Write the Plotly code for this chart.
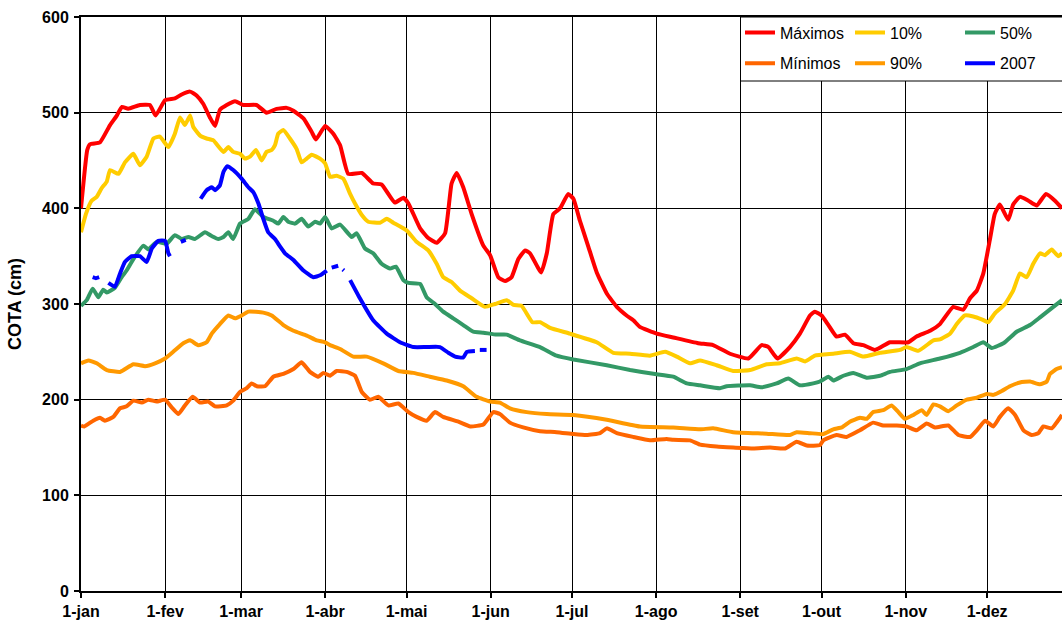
import plotly.graph_objects as go

# ---------------- data (day of year, cota in cm) ----------------
month_days = [0, 31, 59, 90, 120, 151, 181, 212, 243, 273, 304, 334]
month_labels = ["1-jan", "1-fev", "1-mar", "1-abr", "1-mai", "1-jun",
                "1-jul", "1-ago", "1-set", "1-out", "1-nov", "1-dez"]

max_days = [0, 2.3, 3.3, 7, 10.7, 13.2, 15.1, 17.4, 21.7, 25.4, 27.5, 31, 34.6, 37.1, 40.2,
            42.6, 45.1, 47.5, 49.4, 51.2, 53.7, 56.8, 59.8, 64.7, 68.4, 72.1, 75.8, 78.3,
            82, 85, 86.6, 90, 93, 95.5, 98.5, 103.5, 107.7, 110.8, 115.7, 118.8, 120.7,
            125, 128, 131.1, 134.2, 136.6, 138.5, 140.9, 144, 148.3, 150.8, 153.8, 156.3,
            158.7, 161.2, 163.7, 165.5, 169.6, 171.7, 174.1, 176.6, 179.6, 181.5, 183.9,
            187, 190.1, 193.8, 197.5, 201.1, 203.6, 206, 212.2, 218.3, 227.5, 233, 239.2,
            246, 250.9, 253.4, 256.7, 261.3, 265, 268.7, 270.5, 273, 275.5, 278.5, 281.6,
            284.7, 288.4, 292.7, 298.2, 305, 308, 313, 316.6, 321.5, 325.2, 327.7, 330.2,
            332.6, 335, 336.8, 338.7, 341.8, 343.6, 346.1, 349.2, 352.3, 355.7, 359, 361.6]
max_vals = [400, 461, 467, 469, 487, 497, 506, 504, 508, 508, 497, 513, 515, 519, 522,
            518, 509, 495, 486, 503, 508, 512, 508, 508, 500, 504, 505, 502,
            494, 480, 472, 486, 478, 466, 436, 437, 426, 425, 406, 411, 405,
            379, 369, 364, 374, 426, 437, 422, 394, 361, 351, 328, 324,
            328, 347, 356, 353, 333, 353, 394, 400, 415, 410, 387,
            360, 333, 311, 297, 288, 283, 276, 269, 265, 259, 257, 248,
            243, 257, 255, 243, 255, 269, 288, 292, 288, 278, 266, 268,
            259, 257, 252, 260, 260, 266, 272, 279, 297, 294, 306, 314,
            332, 367, 394, 404, 388, 404, 412, 408, 403, 415, 408, 400]

min_days = [0, 1.2, 4.5, 7, 8.8, 11.9, 14.4, 16.8, 19.3, 22.4, 24.8, 27.9, 31, 33.4, 35.9,
            38.3, 41.2, 43.9, 46.9, 49.4, 53.7, 56.1, 58.6, 61.1, 62.9, 64.8, 67.8, 70.9,
            74.6, 78.3, 81.3, 84.4, 87.5, 89.3, 91.8, 94.2, 97.9, 101, 103.5, 106.5, 109.6,
            113.3, 117, 120.7, 123.7, 127.4, 130.5, 133.5, 139.1, 143.5, 148.3, 152, 154.4,
            158.1, 163, 169.2, 175.3, 181.5, 186.4, 191.3, 193.8, 197.5, 203.6, 209.7,
            215.9, 218.3, 224.5, 228.2, 234.3, 240.4, 247.8, 254, 259.5, 263.8, 267.5,
            272.4, 273.6, 278.5, 282.2, 287.1, 292, 295.7, 300.7, 304.3, 308, 311.7, 314.8,
            319.7, 323.4, 327.7, 330.2, 333.3, 336.3, 338.7, 341.8, 344.3, 347.4, 350.4,
            352.9, 354.7, 357.8, 361.6]
min_vals = [173, 172, 178, 181, 178, 182, 191, 193, 199, 197, 200, 198, 200, 192, 185,
            194, 203, 197, 198, 193, 194, 199, 208, 212, 217, 214, 214, 224,
            227, 232, 239, 229, 224, 228, 225, 230, 229, 225, 208, 200, 203,
            194, 196, 187, 182, 178, 187, 182, 177, 172, 174, 187, 185,
            176, 171, 167, 166, 164, 163, 165, 170, 165, 161, 157.5,
            159, 158, 157.5, 153, 151, 150, 149, 150, 149, 156, 152,
            152.5, 157.5, 163, 161, 168, 176, 173, 173, 172, 168, 175, 171,
            173, 163, 161, 168, 178, 172, 182, 191, 184, 168, 163,
            165, 172, 170, 184]

p10_days = [0, 1.8, 3.9, 5.8, 7.6, 9.5, 10.7, 13.8, 16.2, 19.3, 21.7, 24.2, 26.7, 29.1,
            32.2, 34.6, 36.5, 38.3, 40.2, 41.4, 43.9, 46.3, 48.8, 52.5, 54.3, 56.1, 58.6,
            60.4, 62.3, 64.5, 66.6, 68.4, 70.3, 71.5, 72.7, 74.6, 77, 79.5, 81.3, 83.2, 85,
            88.1, 90, 91.8, 94.2, 96.7, 99.2, 101, 103.5, 105.9, 110.2, 112.7, 115.1, 120,
            123.7, 128, 131.1, 133.5, 136.6, 139.7, 144, 148.9, 152.6, 156.9, 159.4, 162.4,
            166.4, 169.2, 172.9, 180.2, 190.1, 196.2, 202.4, 209.7, 215.3, 219.6, 224.5,
            228.2, 234.3, 240.4, 246.6, 252.7, 257.6, 263.8, 266.9, 270.5, 277.3, 283.4,
            288.4, 294.5, 301.9, 304.3, 308.6, 314.2, 316.6, 320.3, 322.8, 325.8, 328.9,
            332, 334.4, 336.8, 340.6, 343.6, 346.1, 348.6, 351, 353.5, 355.3, 357.8, 360.2,
            361.6]
p10_vals = [375, 394, 408, 412, 421, 428, 440, 436, 448, 457, 445, 454, 473, 475,
            464, 478, 495, 487, 497, 485, 476, 473, 471, 459, 464, 459, 457,
            452, 454, 461, 450, 459, 461, 466, 478, 482, 473, 462, 448, 452, 456,
            452, 447, 433, 434, 431, 415, 405, 393, 386, 385, 389, 385, 377,
            365, 356, 342, 328, 323, 314, 306, 297, 300, 304, 299, 298,
            281, 281, 275, 269, 260, 249, 248, 246, 250, 245, 238,
            241, 236, 230, 231, 237, 238, 243, 240, 246, 248, 250,
            245, 249, 252, 255, 251, 262, 263, 269, 279, 288, 287,
            284, 281, 290, 300, 314, 332, 328, 342, 353, 351, 357, 350,
            353]

p50_days = [0, 2.1, 4.3, 6.4, 8.2, 9.5, 12.5, 15, 16.8, 19.3, 23, 24.8, 27.9, 31.6, 34.6,
            37.1, 39.6, 42, 45.7, 48.2, 50.6, 52.5, 54.3, 56.1, 58.6, 61.7, 64.1, 67.2,
            70.9, 72.7, 74.6, 76.4, 78.9, 81.3, 83.8, 86.3, 88.1, 90, 92.4, 95.5, 99.8,
            101.6, 104.7, 107.7, 110.8, 113.9, 116.1, 118.8, 120.7, 125, 127.4, 130.5,
            133.5, 137.2, 140.9, 144.6, 148.3, 153.2, 156.9, 161.8, 169.2, 175.3, 181.5,
            193.8, 202.4, 211, 218.3, 223.3, 228.2, 235.5, 238, 246.6, 250.9, 256.4, 260.7,
            265, 269.9, 272.4, 275.5, 277.3, 281, 284.7, 289.6, 294.5, 298.2, 304.3, 309.2,
            316.6, 324, 328.9, 332.6, 335.7, 340, 344.9, 349.8, 353.5, 358.4, 361.6]
p50_vals = [298, 304, 316, 307, 315, 312, 317, 328, 335, 347, 361, 357, 365, 363, 372,
            368, 370, 368, 375, 371, 368, 370, 375, 368, 384, 389, 399, 391,
            387, 384, 391, 386, 384, 389, 381, 386, 384, 391, 379, 383, 370,
            374, 358, 353, 342, 337, 339, 325, 322, 321, 307, 300,
            292, 285, 278, 271, 270, 268, 268, 262, 255, 246, 242,
            236, 231, 227, 224, 217, 215, 212, 214, 215, 213, 217, 222,
            215, 217, 219, 224, 220, 225, 228, 223, 225, 229, 232, 238,
            243, 249, 255, 260, 254, 259, 271, 278, 286, 297, 304]

p90_days = [0, 2.7, 5.8, 9.5, 14.4, 19.3, 23.6, 27.3, 31, 34, 37.7, 40.2, 43.2, 46.3, 48.2,
            51.2, 54.3, 56.8, 59.2, 61.7, 67.2, 70.3, 74.6, 78.3, 83.2, 86.9, 90, 91.8,
            95.5, 100.4, 105.3, 111.4, 117, 122.5, 128.6, 134.8, 140.9, 145.8, 150.8,
            154.4, 158.1, 164.3, 171.7, 181.5, 193.8, 206, 218.3, 228.2, 233, 240.4,
            252.7, 261.3, 263.8, 268.7, 273.6, 277.3, 280.4, 283.4, 287.1, 289.6, 292,
            295.7, 298.8, 301.3, 303.7, 306.8, 309.9, 311.7, 314.2, 316.6, 319.7, 322.8,
            326.5, 330.2, 333.8, 336.3, 339.4, 342.4, 346.1, 349.8, 353.5, 356, 357.2,
            359.6, 361.6]
p90_vals = [238, 241, 238, 231, 229, 237, 235, 238, 243, 250, 259, 262, 257, 260, 269,
            279, 288, 285, 288, 292, 291, 288, 278, 272, 267, 262, 260, 257,
            253, 245, 245, 238, 230, 228, 224, 220, 214, 203, 198,
            197, 191, 187, 185, 184, 179, 172, 171, 169, 170, 166,
            164.5, 163, 166, 165, 164, 169, 171, 177, 181, 180, 187,
            189, 194, 187, 180, 184, 189, 184, 195, 193, 188, 194,
            200, 202, 206, 205, 209, 214, 218, 219, 216, 219, 227,
            232, 234]

y2007_days = [4.3, 5.5, 6.7, None,
              10.1, 12.5, 14.4, 16.2, 18.7, 21.7, 24.2, 26.1, 28.5, 31, 32.2, 32.8, None,
              36.8, 38.6, None,
              44.1, 46.3, 48.2, 49.4, 51.2, 52.5, 53.9, 56.1, 59.2, 61.7, 63.5, 65.4, 67.2,
              69, 71.5, 73.4, 75.2, 78.3, 82, 85.6, 88.1, 90.6, None,
              92.4, 94.8, None,
              96.5, 96.9, None,
              99.2, 102.8, 107.7, 112.7, 117.6, 122.5, 127.4, 132.3, 135.4, 137.9, 140.9,
              142.2, 145.2, None,
              147, 149.5]
y2007_vals = [328, 327, 328, None,
              322, 318, 332, 344, 350, 350, 344, 358, 366, 366, 353, 350, None,
              365, 367, None,
              410, 419, 422, 419, 424, 438, 444, 440, 431, 422, 417, 405, 389,
              375, 368, 360, 353, 346, 335, 328, 330, 335, None,
              338, 340, None,
              336, 335, None,
              325, 306, 283, 269, 260, 255, 255, 255, 249, 245, 244,
              250, 251, None,
              252, 252]

y_ticks = [0, 100, 200, 300, 400, 500, 600]

# ---------------- figure ----------------
FONT = "Liberation Sans, Arial, sans-serif"
W = 4

series = [
    ("Máximos", max_days, max_vals, "#FF0000", "legend", 65),
    ("Mínimos", min_days, min_vals, "#FF6600", "legend2", 65),
    ("10%", p10_days, p10_vals, "#FFCC00", "legend", 65),
    ("90%", p90_days, p90_vals, "#FF9900", "legend2", 65),
    ("50%", p50_days, p50_vals, "#339966", "legend", 40),
    ("2007", y2007_days, y2007_vals, "#0000FF", "legend2", 40),
]

fig = go.Figure()
for name, xs, ys, col, leg, lw in series:
    fig.add_trace(go.Scatter(
        x=xs, y=ys, mode="lines", name=name,
        line=dict(color=col, width=W, shape="spline", smoothing=0.4),
        connectgaps=False, legend=leg, legendwidth=lw,
        hoverinfo="x+y+name"))

L, T, B = 81, 17, 34
Wd, Ht = 1062, 625
pw, ph = Wd - L, Ht - T - B

leg_x = (740 - L) / pw
row1 = (Ht - B - 32.7) / ph
row2 = (Ht - B - 63.3) / ph

legend_common = dict(orientation="h", xanchor="left", yanchor="middle",
                     bgcolor="rgba(0,0,0,0)", borderwidth=0,
                     font=dict(family=FONT, size=16, color="black"),
                     itemwidth=30, traceorder="normal")

fig.update_layout(
    width=Wd, height=Ht,
    margin=dict(l=L, r=0, t=T, b=B, pad=0),
    paper_bgcolor="white", plot_bgcolor="white",
    font=dict(family=FONT, color="black"),
    showlegend=True,
    legend=dict(x=leg_x, y=row1, **legend_common),
    legend2=dict(x=leg_x, y=row2, **legend_common),
    xaxis=dict(range=[0, 361.6], tickmode="array", tickvals=month_days,
               ticktext=month_labels, showgrid=True, gridcolor="black", gridwidth=1,
               showline=True, linecolor="black", linewidth=2, mirror=True,
               ticks="outside", ticklen=5, tickwidth=1.5, tickcolor="black",
               tickfont=dict(family=FONT, size=16, color="black", weight="bold"),
               zeroline=False, fixedrange=True),
    yaxis=dict(range=[0, 600], tickmode="array", tickvals=y_ticks,
               showgrid=True, gridcolor="black", gridwidth=1,
               showline=True, linecolor="black", linewidth=2, mirror=False,
               ticks="outside", ticklen=5, tickwidth=1.5, tickcolor="black",
               ticklabelstandoff=2,
               tickfont=dict(family=FONT, size=16, color="black", weight="bold"),
               title=dict(text="COTA (cm)", standoff=16,
                          font=dict(family=FONT, size=18, color="black", weight="bold")),
               zeroline=False, fixedrange=True),
    shapes=[dict(type="rect", xref="paper", yref="paper",
                 x0=(740.5 - L) / pw, x1=1.02, y0=(Ht - B - 81) / ph, y1=1,
                 line=dict(color="black", width=1), fillcolor="white", layer="above")],
)

fig.write_html("out.html",
               config={"displayModeBar": False, "staticPlot": False},
               post_script="document.body.style.margin='0';document.body.style.overflow='hidden';")
